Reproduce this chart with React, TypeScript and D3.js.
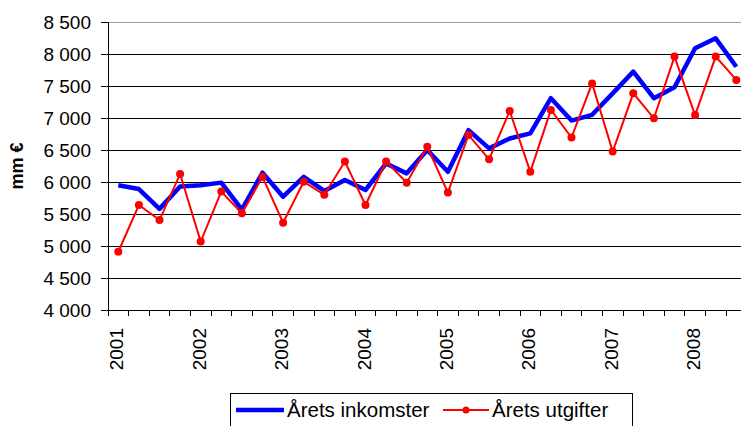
import * as d3 from 'd3'

// kvartal 2001 K1 – 2008 K3
const quarters = [
  '2001K1', '2001K2', '2001K3', '2001K4',
  '2002K1', '2002K2', '2002K3', '2002K4',
  '2003K1', '2003K2', '2003K3', '2003K4',
  '2004K1', '2004K2', '2004K3', '2004K4',
  '2005K1', '2005K2', '2005K3', '2005K4',
  '2006K1', '2006K2', '2006K3', '2006K4',
  '2007K1', '2007K2', '2007K3', '2007K4',
  '2008K1', '2008K2', '2008K3',
]

const inkomster = [
  5950, 5890, 5580, 5930,
  5950, 5990, 5570, 6145,
  5770, 6080, 5860, 6030,
  5875, 6290, 6135, 6500,
  6160, 6810, 6525, 6680,
  6760, 7310, 6960, 7050,
  7385, 7725, 7310, 7480,
  8090, 8245, 7800,
]

const utgifter = [
  4910, 5640, 5405, 6125,
  5070, 5850, 5510, 6080,
  5365, 6005, 5800, 6320,
  5640, 6320, 5990, 6550,
  5835, 6735, 6355, 7110,
  6160, 7125, 6695, 7540,
  6475, 7385, 6995, 7960,
  7045, 7960, 7595,
]

const yTicks = [4000, 4500, 5000, 5500, 6000, 6500, 7000, 7500, 8000, 8500]
const yearLabels = ['2001', '2002', '2003', '2004', '2005', '2006', '2007', '2008']

const W = 741
const H = 426
const left = 108
const top = 22
const bottom = 310
const step = 20.6

const fmt = (v: number) => d3.format(',')(v).replace(',', ' ')

const App = () => {
  const x = d3.scaleBand<string>()
    .domain(quarters)
    .range([left, left + quarters.length * step])
  const y = d3.scaleLinear().domain([4000, 8500]).range([bottom, top])
  const cx = (q: string) => (x(q) as number) + x.bandwidth() / 2

  const line = d3.line<number>()
    .x((_, i) => cx(quarters[i]))
    .y(d => y(d))

  const font = '"Liberation Sans", Arial, sans-serif'

  return (
    <svg width={W} height={H} style={{ position: 'absolute', left: 0, top: 0, background: '#fff' }}
      fontFamily={font}>
      {/* stödlinjer */}
      {yTicks.slice(1).map(t => (
        <line key={t} x1={left} x2={W} y1={y(t)} y2={y(t)}
          stroke={t === 8500 ? '#9a9a9a' : '#000'} strokeWidth={1} shapeRendering="crispEdges" />
      ))}
      {/* y-axel */}
      <line x1={left} x2={left} y1={top} y2={bottom + 6} stroke="#000" shapeRendering="crispEdges" />
      {yTicks.map(t => (
        <g key={t}>
          <line x1={left - 7} x2={left} y1={y(t)} y2={y(t)} stroke="#000" shapeRendering="crispEdges" />
          <text x={91} y={y(t)} dy="0.35em" textAnchor="end" fontSize={19} fill="#000">{fmt(t)}</text>
        </g>
      ))}
      <text transform={`translate(23,166) rotate(-90)`} textAnchor="middle" fontSize={18}
        fontWeight="bold" fill="#000">mm €</text>
      {/* x-axel */}
      <line x1={left} x2={W} y1={bottom} y2={bottom} stroke="#000" shapeRendering="crispEdges" />
      {quarters.map(q => (
        <line key={q} x1={(x(q) as number) + step} x2={(x(q) as number) + step} y1={bottom} y2={bottom + 6}
          stroke="#000" shapeRendering="crispEdges" />
      ))}
      {yearLabels.map(yr => (
        <text key={yr} transform={`translate(${cx(yr + 'K1') + 5},328) rotate(-90)`} textAnchor="end"
          fontSize={19} fill="#000">{yr}</text>
      ))}
      {/* serier */}
      <path d={line(inkomster) ?? ''} fill="none" stroke="#0000ff" strokeWidth={4.5} strokeLinejoin="round" />
      <path d={line(utgifter) ?? ''} fill="none" stroke="#ff0000" strokeWidth={2} />
      {utgifter.map((v, i) => (
        <circle key={i} cx={cx(quarters[i])} cy={y(v)} r={4} fill="#ff0000" />
      ))}
      {/* förklaring */}
      <rect x={230.5} y={393.5} width={402} height={40} fill="#fff" stroke="#000" />
      <line x1={236} x2={284} y1={410} y2={410} stroke="#0000ff" strokeWidth={4.5} />
      <text x={287} y={417} fontSize={20.5} fill="#000">Årets inkomster</text>
      <line x1={443} x2={489} y1={410} y2={410} stroke="#ff0000" strokeWidth={2} />
      <circle cx={466} cy={410} r={3.5} fill="#ff0000" />
      <text x={492} y={417} fontSize={20.5} fill="#000">Årets utgifter</text>
    </svg>
  )
}

export default App
